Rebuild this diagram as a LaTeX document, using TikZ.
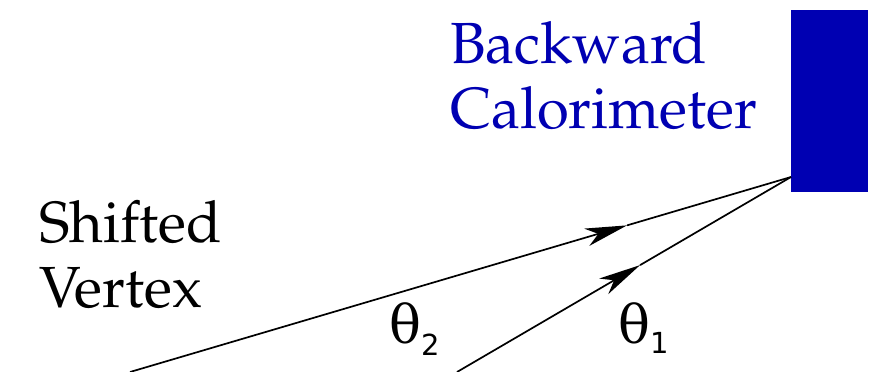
\documentclass[tikz,border=0pt]{standalone}
\usepackage[T1]{fontenc}
\usepackage{fontspec}
\usetikzlibrary{arrows.meta,calc}
\newfontfamily\thetafont{DejaVu Serif}
\newfontfamily\digitfont{DejaVu Sans}
\newcommand\palfont{\fontencoding{T1}\fontfamily{ppl}\selectfont}
\definecolor{calblue}{RGB}{0,0,178}
\tikzset{
  lbl/.style={anchor=base west, inner sep=0pt, align=left,
    font=\palfont\fontsize{58}{65}\selectfont},
  track/.style={line width=1.7pt, black},
  trackarrow/.style={track, -{Stealth[length=42pt, width=18pt, inset=12pt]}},
  anglelbl/.style={anchor=base west, inner sep=0pt, font=\thetafont\fontsize{53}{60}\selectfont}
}
\begin{document}
\begin{tikzpicture}[x=1pt,y=-1pt]
  \useasboundingbox (0,0) rectangle (894,372);
  \node[fill=calblue, draw=none, minimum width=77pt, minimum height=182pt, inner sep=0pt, anchor=north west] (cal) at (791,10) {};
  \node[lbl, text=calblue] (bclabel) at (450,128) {Backward\\Calorimeter};
  \node[lbl] (svlabel) at (39,307) {Shifted\\Vertex};
  \coordinate (hit) at (791,177);
  \coordinate (v2) at (130,372);
  \coordinate (v1) at (457,372);
  \coordinate (m2) at ($(v2)!0.752!(hit)$);
  \coordinate (m1) at ($(v1)!0.548!(hit)$);
  \draw[trackarrow] (v2) -- (m2);
  \draw[track] (m2) -- (hit);
  \draw[trackarrow] (v1) -- (m1);
  \draw[track] (m1) -- (hit);
  \node[anglelbl] (th2) at (389,343) {θ\raisebox{-12pt}{\digitfont\fontsize{29}{30}\selectfont 2}};
  \node[anglelbl] (th1) at (618,343) {θ\raisebox{-10pt}{\digitfont\fontsize{29}{30}\selectfont 1}};
\end{tikzpicture}
\end{document}
